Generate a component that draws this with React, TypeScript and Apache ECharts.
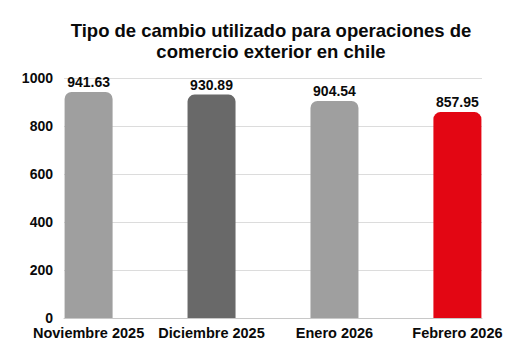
import React, { useEffect, useRef } from "react";
import * as echarts from "echarts";

const categories = ["Noviembre 2025", "Diciembre 2025", "Enero 2026", "Febrero 2026"];
const values = [941.63, 930.89, 904.54, 857.95];
const barColors = ["#9f9f9f", "#696969", "#9f9f9f", "#e30613"];
const yTicks = [0, 200, 400, 600, 800, 1000];
const titleText = "Tipo de cambio utilizado para operaciones de\ncomercio exterior en chile";

const FONT = '"Liberation Sans", Arial, Helvetica, sans-serif';

export default function App() {
  const ref = useRef<HTMLDivElement>(null);
  useEffect(() => {
    document.body.style.margin = "0";
    if (!ref.current) return;
    const chart = echarts.init(ref.current, null, { renderer: "svg" });
    chart.setOption({
      animation: false,
      backgroundColor: "#ffffff",
      textStyle: { fontFamily: FONT },
      title: {
        text: titleText,
        left: 266,
        top: 15,
        textAlign: "center",
        textStyle: {
          fontFamily: FONT,
          fontSize: 18.5,
          fontWeight: "bold",
          color: "#0a0a0a",
          lineHeight: 21,
        },
      },
      grid: { left: 64, right: 34, top: 78, bottom: 38 },
      xAxis: {
        type: "value",
        min: -0.2,
        max: 3.2,
        splitLine: { show: false },
        axisTick: { show: false },
        axisLine: { show: true, onZero: false, lineStyle: { color: "#c8c8c8", width: 1 } },
        axisLabel: {
          customValues: [0, 1, 2, 3],
          formatter: (v: number) => categories[Math.round(v)] ?? "",
          fontFamily: FONT,
          fontSize: 14.5,
          fontWeight: "bold",
          color: "#0a0a0a",
          margin: 7,
        },
      },
      yAxis: {
        type: "value",
        min: yTicks[0],
        max: yTicks[yTicks.length - 1],
        interval: 200,
        axisLine: { show: false },
        axisTick: { show: false },
        splitLine: { lineStyle: { color: "#dcdcdc", width: 1 } },
        axisLabel: {
          formatter: (v: number) => String(v),
          fontFamily: FONT,
          fontSize: 14,
          fontWeight: "bold",
          color: "#0a0a0a",
          margin: 11,
        },
      },
      series: [
        {
          type: "bar",
          barWidth: 48,
          data: values.map((v, i) => ({
            value: [i, v],
            itemStyle: { color: barColors[i], borderRadius: [7, 7, 0, 0] },
          })),
          label: {
            show: true,
            position: "top",
            distance: 3,
            formatter: (p: any) => p.value[1].toFixed(2),
            fontFamily: FONT,
            fontSize: 14,
            fontWeight: "bold",
            color: "#0a0a0a",
          },
        },
      ],
    });
    return () => chart.dispose();
  }, []);
  return <div ref={ref} style={{ width: 516, height: 356 }} />;
}
